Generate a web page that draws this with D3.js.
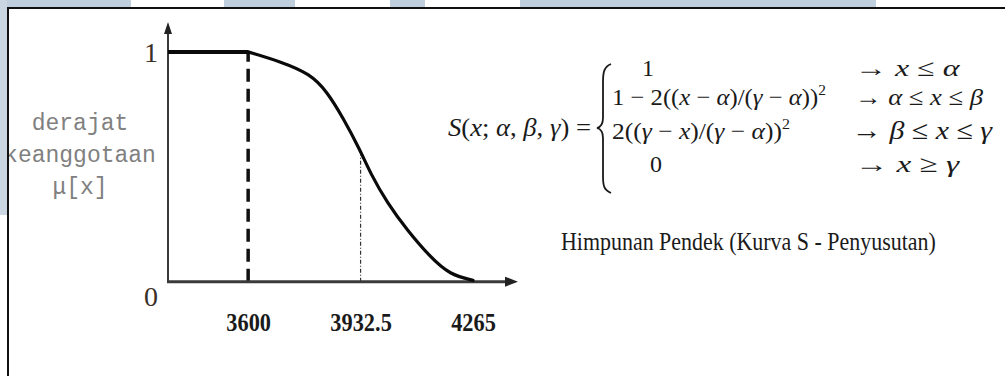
<!DOCTYPE html>
<html>
<head>
<meta charset="utf-8">
<script src="https://cdn.jsdelivr.net/npm/d3@7"></script>
<style>
  html, body { margin: 0; padding: 0; background: #ffffff; overflow: hidden; }
  svg { display: block; }
</style>
</head>
<body>
<svg id="chart" width="1005" height="376"></svg>
<script>
// S-curve membership function, "Pendek" set (x in units, mu in [0,1])
const plateauX  = [3363, 3600];
const plateauMu = [1, 1];
const curveX  = [3600, 3695, 3783, 3834, 3881, 3931, 3961, 4011, 4070, 4138, 4197, 4265];
const curveMu = [1,    0.958, 0.905, 0.826, 0.712, 0.573, 0.473, 0.343, 0.225, 0.108, 0.03, 0.006];

// parameters of the curve
const alphaX = 3600;
const betaX = 3932.5;
const betaMu = 0.55;

// axis ticks
const xTickValues = [3600, 3932.5, 4265];
const xTickLabels = ["3600", "3932.5", "4265"];
const yTickValues = [0, 1];
const yTickLabels = ["0", "1"];

// axis title (stacked lines)
const yTitleLines = ["derajat", "keanggotaan", "\u03bc[x]"];

// formula rows
const formulaLeft = ["1", "1 \u2212 2((x \u2212 \u03b1)/(\u03b3 \u2212 \u03b1))", "2((\u03b3 \u2212 x)/(\u03b3 \u2212 \u03b1))", "0"];
const formulaPow  = ["", "2", "2", ""];
const formulaCond = ["\u2192  x \u2264 \u03b1", "\u2192  \u03b1 \u2264 x \u2264 \u03b2", "\u2192 \u03b2 \u2264 x \u2264 \u03b3", "\u2192  x \u2265 \u03b3"];

const caption = "Himpunan Pendek (Kurva S - Penyusutan)";

const svg = d3.select("#chart");

// ---- decorative banner strip along the top ----
const bannerBlue = "#bfcfdd";
[[0, 131], [224, 295], [390, 425], [520, 876]].forEach(([a, b]) => {
  svg.append("rect").attr("x", a).attr("y", 0).attr("width", b - a).attr("height", 7).attr("fill", bannerBlue);
});

// ---- scales ----
const x = d3.scaleLinear().domain([3363, 4398]).range([168, 518]);
const y = d3.scaleLinear().domain([0, 1.13]).range([281.7, 22]);

// ---- y-axis title ----
const title = svg.append("text")
  .attr("font-family", "'Liberation Mono', 'DejaVu Sans Mono', monospace")
  .attr("font-size", 23)
  .attr("fill", "#808080")
  .attr("text-anchor", "middle");
yTitleLines.forEach((t, i) => {
  title.append("tspan").attr("x", 80).attr("y", 130 + i * 32).text(t);
});

// left strip and frame drawn over the title edge
svg.append("rect").attr("x", 0).attr("y", 0).attr("width", 7).attr("height", 215).attr("fill", "#cad7e3");
svg.append("line").attr("x1", 7).attr("x2", 1005).attr("y1", 8).attr("y2", 8).attr("stroke", "#111").attr("stroke-width", 2);
svg.append("line").attr("x1", 8).attr("x2", 8).attr("y1", 7).attr("y2", 376).attr("stroke", "#111").attr("stroke-width", 2);

// ---- reference lines at alpha and beta ----
svg.append("line")
  .attr("x1", x(alphaX)).attr("x2", x(alphaX))
  .attr("y1", y(0)).attr("y2", y(1))
  .attr("stroke", "#111").attr("stroke-width", 3.5)
  .attr("stroke-dasharray", "13,7");

svg.append("line")
  .attr("x1", x(betaX)).attr("x2", x(betaX))
  .attr("y1", y(0)).attr("y2", y(betaMu))
  .attr("stroke", "#333").attr("stroke-width", 1.2)
  .attr("stroke-dasharray", "4,2,1,2");

// ---- axes with arrow heads ----
const axisColor = "#3a3a3a";
svg.append("line")
  .attr("x1", x.range()[0] - 1).attr("x2", x.range()[1] - 8)
  .attr("y1", y(0)).attr("y2", y(0))
  .attr("stroke", axisColor).attr("stroke-width", 3);
svg.append("path")
  .attr("d", `M${x.range()[1]},${y(0)} L${x.range()[1] - 13},${y(0) - 5} L${x.range()[1] - 13},${y(0) + 5} Z`)
  .attr("fill", "#222");

svg.append("line")
  .attr("x1", x.range()[0]).attr("x2", x.range()[0])
  .attr("y1", y(0)).attr("y2", y.range()[1] + 8)
  .attr("stroke", axisColor).attr("stroke-width", 2);
svg.append("path")
  .attr("d", `M${x.range()[0]},${y.range()[1]} L${x.range()[0] - 4},${y.range()[1] + 12} L${x.range()[0] + 4},${y.range()[1] + 12} Z`)
  .attr("fill", "#222");

// ---- membership curve ----
const line = d3.line().x(d => x(d[0])).y(d => y(d[1])).curve(d3.curveBasis);
svg.append("path")
  .attr("d", line(curveX.map((v, i) => [v, curveMu[i]])))
  .attr("fill", "none")
  .attr("stroke", "#0a0a0a")
  .attr("stroke-width", 3.2)
  .attr("stroke-linecap", "round");
// thicker plateau up to alpha
svg.append("path")
  .attr("d", d3.line().x(d => x(d[0])).y(d => y(d[1]))(plateauX.map((v, i) => [v, plateauMu[i]])))
  .attr("fill", "none")
  .attr("stroke", "#0a0a0a")
  .attr("stroke-width", 4);

// ---- x tick labels ----
const xAxis = d3.axisBottom(x)
  .tickValues(xTickValues)
  .tickFormat((d, i) => xTickLabels[i])
  .tickSize(0)
  .tickPadding(31);
const gx = svg.append("g").attr("transform", `translate(0,${y(0)})`).call(xAxis);
gx.select(".domain").remove();
gx.selectAll("text")
  .attr("font-family", "'Liberation Serif', 'Times New Roman', serif")
  .attr("font-weight", "bold")
  .attr("font-size", 26)
  .attr("fill", "#1a1a1a")
  .attr("transform", "scale(0.86,1)");

// ---- y tick labels ----
const yAxis = d3.axisLeft(y)
  .tickValues(yTickValues)
  .tickFormat((d, i) => yTickLabels[i])
  .tickSize(0)
  .tickPadding(10);
const gy = svg.append("g").attr("transform", `translate(${x.range()[0]},0)`).call(yAxis);
gy.select(".domain").remove();
gy.selectAll("text")
  .attr("font-family", "'Liberation Serif', 'Times New Roman', serif")
  .attr("font-size", 28)
  .attr("fill", "#3b3028")
  .attr("text-anchor", "middle")
  .attr("x", -17)
  .attr("dy", d => d === 0 ? "0.85em" : "0.34em");

// ---- formula ----
const mathFont = "'Liberation Serif', 'DejaVu Serif', serif";
const italicChars = /[xSαβγ\u03b1\u03b2\u03b3]/;

function mathText(g, str, xPos, yPos, size, anchor) {
  const t = g.append("text")
    .attr("x", xPos).attr("y", yPos)
    .attr("font-family", mathFont)
    .attr("font-size", size)
    .attr("fill", "#1a1a1a")
    .attr("text-anchor", anchor || "start");
  // split into italic variables and upright symbols
  const parts = str.match(/[xSαβγ\u03b1\u03b2\u03b3]|[^xSαβγ\u03b1\u03b2\u03b3]+/g) || [];
  parts.forEach(p => {
    t.append("tspan").attr("font-style", italicChars.test(p) ? "italic" : "normal").text(p);
  });
  return t;
}

// fit a text element horizontally into [x0, x0+w]
function fitWidth(t, x0, w) {
  const bb = t.node().getBBox();
  const s = w / bb.width;
  t.attr("transform", `translate(${x0},0) scale(${s},1) translate(${-bb.x},0)`);
}

const fg = svg.append("g");
const lhs = mathText(fg, "S(x; \u03b1, \u03b2, \u03b3) =", 0, 136, 25);
fitWidth(lhs, 448, 143);

// brace
fg.append("path")
  .attr("d", "M611,64 C604,67 603,72 603,82 L603,118 C603,124 601,127 597,128 C601,129 603,132 603,138 L603,176 C603,186 604,190 611,193")
  .attr("fill", "none").attr("stroke", "#1a1a1a").attr("stroke-width", 1.8);

const rowBase = [76, 105, 139, 172];
mathText(fg, formulaLeft[0], 648, rowBase[0], 24, "middle");
const r1 = mathText(fg, formulaLeft[1], 0, rowBase[1], 24);
r1.append("tspan").attr("font-size", 15).attr("dy", -10).text(formulaPow[1]);
fitWidth(r1, 612, 214);
const r2 = mathText(fg, formulaLeft[2], 0, rowBase[2], 24);
r2.append("tspan").attr("font-size", 15).attr("dy", -10).text(formulaPow[2]);
fitWidth(r2, 612, 178);
mathText(fg, formulaLeft[3], 656, rowBase[3], 24, "middle");

const c0 = mathText(fg, formulaCond[0], 0, rowBase[0], 24); fitWidth(c0, 855, 105);
const c1 = mathText(fg, formulaCond[1], 0, rowBase[1], 24); fitWidth(c1, 855, 128);
const c2 = mathText(fg, formulaCond[2], 0, rowBase[2], 26); fitWidth(c2, 852, 141);
const c3 = mathText(fg, formulaCond[3], 0, rowBase[3], 24); fitWidth(c3, 855, 105);

// ---- caption ----
const cap = svg.append("text")
  .attr("y", 250)
  .attr("font-family", "'Liberation Serif', 'Times New Roman', serif")
  .attr("font-size", 26)
  .attr("fill", "#1a1a1a")
  .text(caption);
fitWidth(cap, 561, 375);
</script>
</body>
</html>
